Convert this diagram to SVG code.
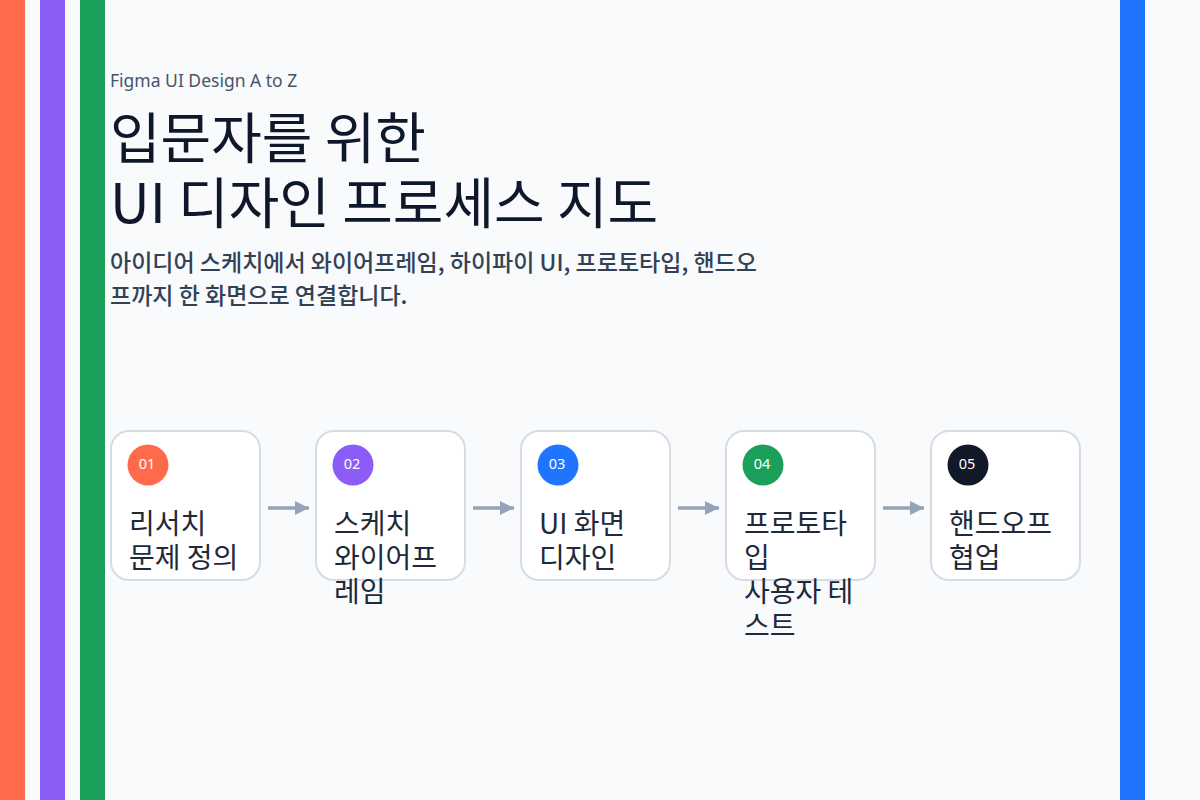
<svg xmlns="http://www.w3.org/2000/svg" width="1200" height="800" viewBox="0 0 1200 800">
<style>
.ko{font-family:"Noto Sans CJK KR","Noto Sans",sans-serif}
.box{fill:#FFFFFF;stroke:#D5DCE6;stroke-width:2}
.num{font-family:"Noto Sans","Noto Sans CJK KR",sans-serif;font-size:14.5px;fill:#FFFFFF;text-anchor:middle}
.lbl{font-family:"Noto Sans CJK KR","Noto Sans",sans-serif;font-size:28px;fill:#1E293B}
.conn{stroke:#94A3B8;stroke-width:3.5;fill:none;marker-end:url(#ah)}
</style>
<defs>
<marker id="ah" viewBox="0 0 10 10" refX="10" refY="5" markerWidth="4" markerHeight="5" markerUnits="strokeWidth" orient="auto">
<path d="M0,0 L10,5 L0,10 Z" fill="#94A3B8"/>
</marker>
</defs>
<rect width="1200" height="800" fill="#F8FAFC"/>
<rect x="0" y="0" width="25" height="800" fill="#FF6B4A"/>
<rect x="40" y="0" width="25" height="800" fill="#8B5CF6"/>
<rect x="80" y="0" width="25" height="800" fill="#1AA05A"/>
<rect x="1120" y="0" width="25" height="800" fill="#1F75FE"/>
<g id="header">
<text x="110" y="87" font-family="Noto Sans, Noto Sans CJK KR, sans-serif" font-size="17.5" fill="#475569">Figma UI Design A to Z</text>
<text class="ko" x="110" y="158" font-size="55" fill="#0F172A">입문자를 위한</text>
<text class="ko" x="110" y="223" font-size="55" fill="#0F172A">UI 디자인 프로세스 지도</text>
<text class="ko" x="110" y="271" font-size="23" font-weight="500" fill="#334155">아이디어 스케치에서 와이어프레임, 하이파이 UI, 프로토타입, 핸드오</text>
<text class="ko" x="110" y="304" font-size="23" font-weight="500" fill="#334155">프까지 한 화면으로 연결합니다.</text>
</g>
<g id="connectors">
<line class="conn" x1="268" y1="508" x2="309" y2="508"/>
<line class="conn" x1="473" y1="508" x2="514" y2="508"/>
<line class="conn" x1="678" y1="508" x2="719" y2="508"/>
<line class="conn" x1="883" y1="508" x2="924" y2="508"/>
</g>
<g id="node1">
<rect class="box" x="111" y="431" width="149" height="149" rx="18"/>
<circle cx="148" cy="465" r="20.5" fill="#FF6B4A"/>
<text class="num" x="147" y="468.5">01</text>
<text class="lbl" x="129" y="534">리서치</text>
<text class="lbl" x="129" y="568">문제 정의</text>
</g>
<g id="node2">
<rect class="box" x="316" y="431" width="149" height="149" rx="18"/>
<circle cx="353" cy="465" r="20.5" fill="#8B5CF6"/>
<text class="num" x="352" y="468.5">02</text>
<text class="lbl" x="334" y="534">스케치</text>
<text class="lbl" x="334" y="568">와이어프</text>
<text class="lbl" x="334" y="602">레임</text>
</g>
<g id="node3">
<rect class="box" x="521" y="431" width="149" height="149" rx="18"/>
<circle cx="558" cy="465" r="20.5" fill="#1F75FE"/>
<text class="num" x="557" y="468.5">03</text>
<text class="lbl" x="539" y="534">UI 화면</text>
<text class="lbl" x="539" y="568">디자인</text>
</g>
<g id="node4">
<rect class="box" x="726" y="431" width="149" height="149" rx="18"/>
<circle cx="763" cy="465" r="20.5" fill="#1AA05A"/>
<text class="num" x="762" y="468.5">04</text>
<text class="lbl" x="744" y="534">프로토타</text>
<text class="lbl" x="744" y="568">입</text>
<text class="lbl" x="744" y="602">사용자 테</text>
<text class="lbl" x="744" y="636">스트</text>
</g>
<g id="node5">
<rect class="box" x="931" y="431" width="149" height="149" rx="18"/>
<circle cx="968" cy="465" r="20.5" fill="#111827"/>
<text class="num" x="967" y="468.5">05</text>
<text class="lbl" x="949" y="534">핸드오프</text>
<text class="lbl" x="949" y="568">협업</text>
</g>
</svg>
